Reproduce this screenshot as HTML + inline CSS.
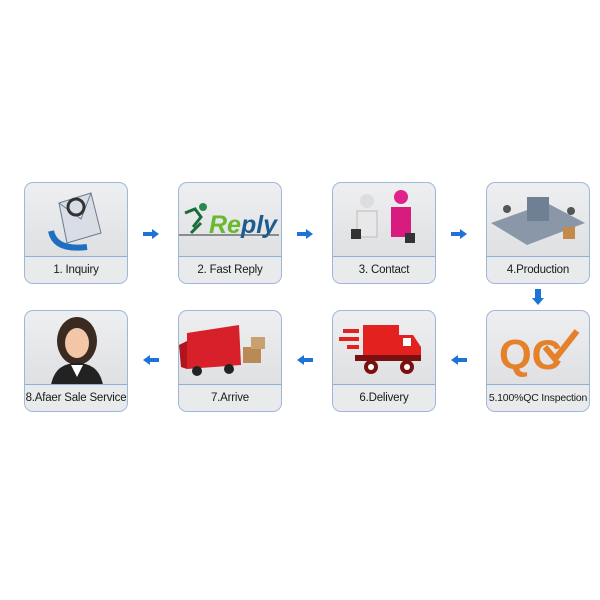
<!DOCTYPE html>
<html><head><style>
body{margin:0;width:600px;height:600px;background:#fff;position:relative;font-family:"Liberation Sans",sans-serif;overflow:hidden}
.b{position:absolute;width:102px;height:100px;border:1.5px solid #9db7d8;border-radius:9px;background:linear-gradient(#eeeff1,#d9dadd);overflow:hidden}
.b .l{position:absolute;left:0;right:0;bottom:0;height:26px;border-top:1.5px solid #8fb0d6;background:#e9eaec;font-size:11.5px;color:#1a1a1a;text-align:center;line-height:26px;white-space:nowrap;letter-spacing:-0.2px}
.b .ic{position:absolute;left:0;right:0;top:0;height:74px}
.ar{position:absolute;width:16px;height:10px}
</style></head><body>
<div class="b" style="left:24px;top:182px"><div class="ic"><svg width="102" height="74">
<path d="M34 20 L66 10 L76 50 L42 60Z" fill="#d9dee6" stroke="#6b7a8c"/>
<path d="M34 20 L56 36 L66 10" fill="none" stroke="#6b7a8c"/>
<circle cx="51" cy="24" r="8" fill="none" stroke="#333" stroke-width="3"/>
<path d="M26 48 Q30 68 62 64" fill="none" stroke="#1e6fc0" stroke-width="6"/></svg></div><div class="l">1. Inquiry</div></div>
<div class="b" style="left:178px;top:182px"><div class="ic"><svg width="102" height="74">
<path d="M6 30 L16 26 L22 34 L14 44 M12 50 L22 40" stroke="#1a6a3a" stroke-width="3" fill="none"/><circle cx="24" cy="24" r="4" fill="#2a8a4a"/>
<line x1="0" y1="52" x2="100" y2="52" stroke="#333"/>
<text x="30" y="50" font-size="25" font-weight="bold" font-style="italic" fill="#6ab82e" font-family="Liberation Sans">Re<tspan fill="#1d5c8c">ply</tspan></text></svg></div><div class="l">2. Fast Reply</div></div>
<div class="b" style="left:332px;top:182px"><div class="ic"><svg width="102" height="74">
<circle cx="34" cy="18" r="7" fill="#ddd"/><path d="M24 28 h20 v26 h-20z" fill="#e8e8e8" stroke="#bbb"/>
<circle cx="68" cy="14" r="7" fill="#e0238a"/><path d="M58 24 h20 v30 h-20z" fill="#d81b7f"/>
<rect x="18" y="46" width="10" height="10" fill="#333"/><rect x="72" y="50" width="10" height="10" fill="#333"/></svg></div><div class="l">3. Contact</div></div>
<div class="b" style="left:486px;top:182px"><div class="ic"><svg width="102" height="74">
<path d="M4 40 L60 20 L98 40 L40 62Z" fill="#8a97a8"/><rect x="40" y="14" width="22" height="24" fill="#6f7f94"/>
<rect x="76" y="44" width="12" height="12" fill="#c48a4a"/><circle cx="20" cy="26" r="4" fill="#555"/><circle cx="84" cy="28" r="4" fill="#555"/></svg></div><div class="l">4.Production</div></div>
<div class="b" style="left:24px;top:310px"><div class="ic"><svg width="102" height="74">
<ellipse cx="52" cy="30" rx="20" ry="24" fill="#3a2a22"/><ellipse cx="52" cy="32" rx="12" ry="15" fill="#f2c6a6"/>
<path d="M26 74 Q30 52 52 52 Q74 52 78 74Z" fill="#222"/><path d="M46 54 L52 66 L58 54Z" fill="#fff"/></svg></div><div class="l">8.Afaer Sale Service</div></div>
<div class="b" style="left:178px;top:310px"><div class="ic"><svg width="102" height="74">
<path d="M8 22 L60 14 L62 54 L8 58Z" fill="#d8202a"/><path d="M8 58 L8 30 L0 34 L2 56Z" fill="#b0141c"/>
<rect x="64" y="36" width="18" height="16" fill="#b98a55"/><rect x="72" y="26" width="14" height="12" fill="#c9a070"/>
<circle cx="18" cy="60" r="5" fill="#222"/><circle cx="50" cy="58" r="5" fill="#222"/></svg></div><div class="l">7.Arrive</div></div>
<div class="b" style="left:332px;top:310px"><div class="ic"><svg width="102" height="74">
<rect x="30" y="14" width="36" height="30" fill="#e3221f"/><path d="M66 24 h14 l8 12 v12 h-22z" fill="#e3221f"/>
<rect x="70" y="27" width="8" height="8" fill="#fff"/><rect x="22" y="44" width="66" height="6" fill="#7a1010"/>
<rect x="10" y="18" width="16" height="4" fill="#e3221f"/><rect x="6" y="26" width="20" height="4" fill="#e3221f"/><rect x="14" y="34" width="12" height="4" fill="#e3221f"/>
<circle cx="38" cy="56" r="7" fill="#7a1010"/><circle cx="38" cy="56" r="3" fill="#fff"/><circle cx="74" cy="56" r="7" fill="#7a1010"/><circle cx="74" cy="56" r="3" fill="#fff"/></svg></div><div class="l">6.Delivery</div></div>
<div class="b" style="left:486px;top:310px"><div class="ic"><svg width="102" height="74">
<text x="12" y="58" font-size="42" font-weight="bold" fill="#e4812a" font-family="Liberation Sans">QC</text>
<path d="M58 36 L68 48 L90 20" stroke="#e4812a" stroke-width="6" fill="none"/></svg></div><div class="l" style="font-size:10.5px">5.100%QC Inspection</div></div>
<svg class="ar" style="left:143px;top:229px"><path d="M0 3h9V0l7 5-7 5V7H0z" fill="#1e73d8"/></svg>
<svg class="ar" style="left:297px;top:229px"><path d="M0 3h9V0l7 5-7 5V7H0z" fill="#1e73d8"/></svg>
<svg class="ar" style="left:451px;top:229px"><path d="M0 3h9V0l7 5-7 5V7H0z" fill="#1e73d8"/></svg>
<svg class="ar" style="left:143px;top:355px"><path d="M16 3H7V0L0 5l7 5V7h9z" fill="#1e73d8"/></svg>
<svg class="ar" style="left:297px;top:355px"><path d="M16 3H7V0L0 5l7 5V7h9z" fill="#1e73d8"/></svg>
<svg class="ar" style="left:451px;top:355px"><path d="M16 3H7V0L0 5l7 5V7h9z" fill="#1e73d8"/></svg>
<svg style="position:absolute;left:532px;top:289px" width="12" height="16"><path d="M3 0h6v9h3l-6 7-6-7h3z" fill="#1e73d8"/></svg>
</body></html>
